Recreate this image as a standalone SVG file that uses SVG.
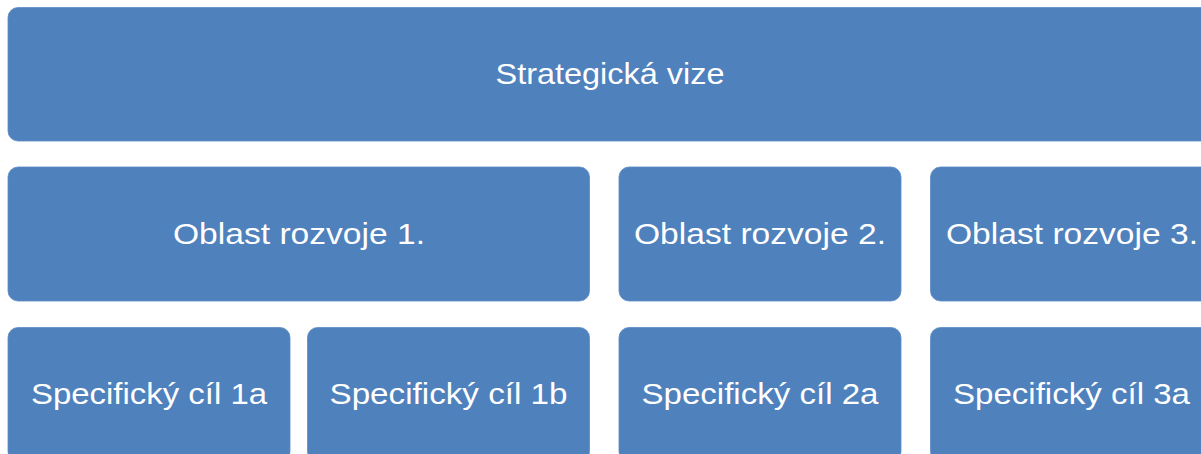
<svg xmlns="http://www.w3.org/2000/svg" width="1201" height="454" viewBox="0 0 1201 454">
<style>
.box{fill:#4F81BD;stroke:#5B8BC4;stroke-width:0.8}
.t{fill:#FFFFFF;font-family:"Liberation Sans",Arial,sans-serif;font-size:30px;text-anchor:middle}
</style>
<rect width="1201" height="454" fill="#FFFFFF"/>
<g id="vize"><rect class="box" x="8" y="7.5" width="1204" height="133.5" rx="10"/><text class="t" x="610" y="84" textLength="229" lengthAdjust="spacingAndGlyphs">Strategická vize</text></g>
<g id="oblast1"><rect class="box" x="8" y="167" width="581.5" height="134" rx="10"/><text class="t" x="299" y="244" textLength="252" lengthAdjust="spacingAndGlyphs">Oblast rozvoje 1.</text></g>
<g id="oblast2"><rect class="box" x="619" y="167" width="282" height="134" rx="10"/><text class="t" x="760" y="244" textLength="252" lengthAdjust="spacingAndGlyphs">Oblast rozvoje 2.</text></g>
<g id="oblast3"><rect class="box" x="930.5" y="167" width="282" height="134" rx="10"/><text class="t" x="1072" y="244" textLength="252" lengthAdjust="spacingAndGlyphs">Oblast rozvoje 3.</text></g>
<g id="cil1a"><rect class="box" x="8" y="327.5" width="282" height="134" rx="10"/><text class="t" x="149" y="404" textLength="236" lengthAdjust="spacingAndGlyphs">Specifický cíl 1a</text></g>
<g id="cil1b"><rect class="box" x="307.5" y="327.5" width="282" height="134" rx="10"/><text class="t" x="448.5" y="404" textLength="238" lengthAdjust="spacingAndGlyphs">Specifický cíl 1b</text></g>
<g id="cil2a"><rect class="box" x="619" y="327.5" width="282" height="134" rx="10"/><text class="t" x="760" y="404" textLength="237" lengthAdjust="spacingAndGlyphs">Specifický cíl 2a</text></g>
<g id="cil3a"><rect class="box" x="930.5" y="327.5" width="282" height="134" rx="10"/><text class="t" x="1071.5" y="404" textLength="237" lengthAdjust="spacingAndGlyphs">Specifický cíl 3a</text></g>
<g id="connectors"></g>
</svg>
